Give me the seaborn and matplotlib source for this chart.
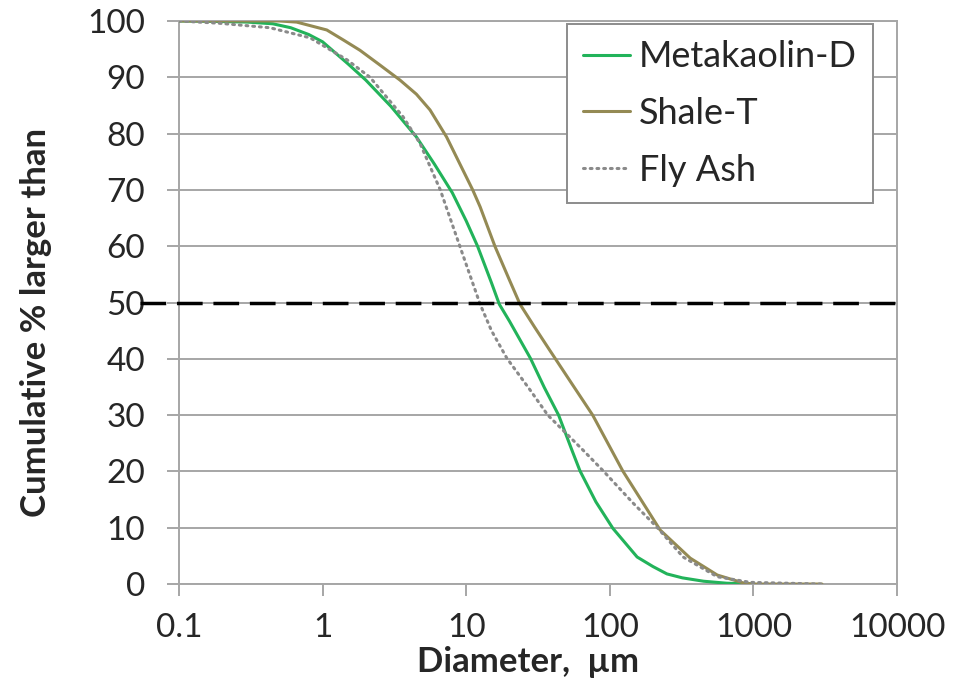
import matplotlib
matplotlib.use('Agg')
from matplotlib import pyplot as plt
import pandas as pd
import seaborn as sns

## Particle size distributions ##

diam_mk = [0.1, 0.2, 0.3, 0.45, 0.6, 0.8, 1, 1.5, 2, 3, 4.5, 6, 8, 10, 12, 15, 17, 20, 28, 35,
           44, 55, 62, 80, 105, 130, 155, 200, 250, 320, 450, 650, 1000]
pct_mk = [100, 99.9, 99.8, 99.5, 98.8, 97.6, 96.3, 92.4, 89.5, 84.8, 79.4, 74.6, 69.5, 64.5, 60,
          53.5, 49.7, 46.7, 40.1, 34.9, 30, 23.5, 20.1, 14.6, 9.9, 7.1, 4.8, 3.1, 1.8, 1.1, 0.5,
          0.15, 0]

diam_sh = [0.1, 0.3, 0.5, 0.66, 1.07, 1.4, 1.82, 2.5, 3.46, 4.5, 5.6, 7.3, 9, 11.1, 12.5, 15.9,
           20, 23.7, 30, 38, 55, 76, 123, 160, 224, 363, 560, 850, 1000, 3000]
pct_sh = [100, 100, 100, 99.8, 98.4, 96.6, 94.8, 92.2, 89.5, 87.0, 84.2, 79.4, 74.7, 70, 67,
          59.9, 54, 49.7, 45.6, 41.6, 35.4, 30, 20.1, 15.5, 9.6, 4.6, 1.6, 0.2, 0, 0]

diam_fa = [0.1, 0.19, 0.43, 0.82, 1.48, 2.14, 3.63, 4.76, 6.6, 9.06, 12.5, 15, 19.2, 27.8, 37,
           65, 90, 145, 213, 324, 560, 950, 3000]
pct_fa = [100, 99.6, 98.8, 97, 93.1, 90, 83, 78.3, 70, 59.9, 49.7, 45, 40.1, 34.5, 30, 23.8,
          20.1, 14.4, 10.1, 4.8, 1.3, 0.3, 0]

materials = ['Metakaolin-D', 'Shale-T', 'Fly Ash']
x_ticks = [0.1, 1, 10, 100, 1000, 10000]
x_tick_labels = ['0.1', '1', '10', '100', '1000', '10000']
y_ticks = list(range(0, 101, 10))
d50_level = 50

df = pd.concat([
    pd.DataFrame({'Diameter': diam_mk, 'Percent': pct_mk, 'Material': materials[0]}),
    pd.DataFrame({'Diameter': diam_sh, 'Percent': pct_sh, 'Material': materials[1]}),
    pd.DataFrame({'Diameter': diam_fa, 'Percent': pct_fa, 'Material': materials[2]}),
])

## Plot ##

sns.set_style('white')
plt.rcParams['font.family'] = ['Lato', 'DejaVu Sans']
grid_col = '#A6A6A6'

fig = plt.figure(figsize=(9.55, 6.92), dpi=100)
ax = fig.add_axes([0.1874, 0.156, 0.7519, 0.8137])

styles = {
    'Metakaolin-D': dict(color='#22B35A', linestyle='-'),
    'Shale-T': dict(color='#948A54', linestyle='-'),
    'Fly Ash': dict(color='#8A8A8A', linestyle=(0, (0.6, 1.6)), dash_capstyle='round'),
}
for name in materials:
    sub = df[df['Material'] == name]
    sns.lineplot(data=sub, x='Diameter', y='Percent', ax=ax, label=name,
                 linewidth=2.2, zorder=3, **styles[name])

ax.axhline(d50_level, xmin=-0.054, xmax=1, color='black', lw=2.5,
           linestyle=(0, (7.4, 3.1)), clip_on=False, zorder=4)

ax.set_xscale('log')
ax.set_xlim(0.1, 10000)
ax.set_ylim(0, 100)
ax.set_xticks(x_ticks)
ax.set_xticklabels(x_tick_labels)
ax.minorticks_off()
ax.set_yticks(y_ticks)

ax.yaxis.grid(True, color=grid_col, lw=1.4)
ax.set_axisbelow(True)
for sp in ax.spines.values():
    sp.set_color(grid_col)
    sp.set_linewidth(1.4)
ax.tick_params(axis='y', left=True, length=8.6, width=1.4, color=grid_col, pad=16, labelsize=24)
ax.tick_params(axis='x', bottom=True, length=8.6, width=1.4, color=grid_col, pad=12, labelsize=24)

ax.set_xlabel('Diameter,  µm', fontsize=25, fontweight='bold')
ax.set_ylabel('Cumulative % larger than', fontsize=25, fontweight='bold')
ax.xaxis.set_label_coords(0.486, -0.11)
ax.yaxis.set_label_coords(-0.177, 0.465)

leg = ax.legend(loc='upper right', bbox_to_anchor=(0.9666, 0.9947), borderaxespad=0,
                fontsize=26, frameon=True, fancybox=False, framealpha=1,
                edgecolor='#8C8C8C', handlelength=1.3, handletextpad=0.25,
                labelspacing=0.66, borderpad=0.45)
leg.get_frame().set_linewidth(1.4)

fig.savefig('out.png', dpi=100)
